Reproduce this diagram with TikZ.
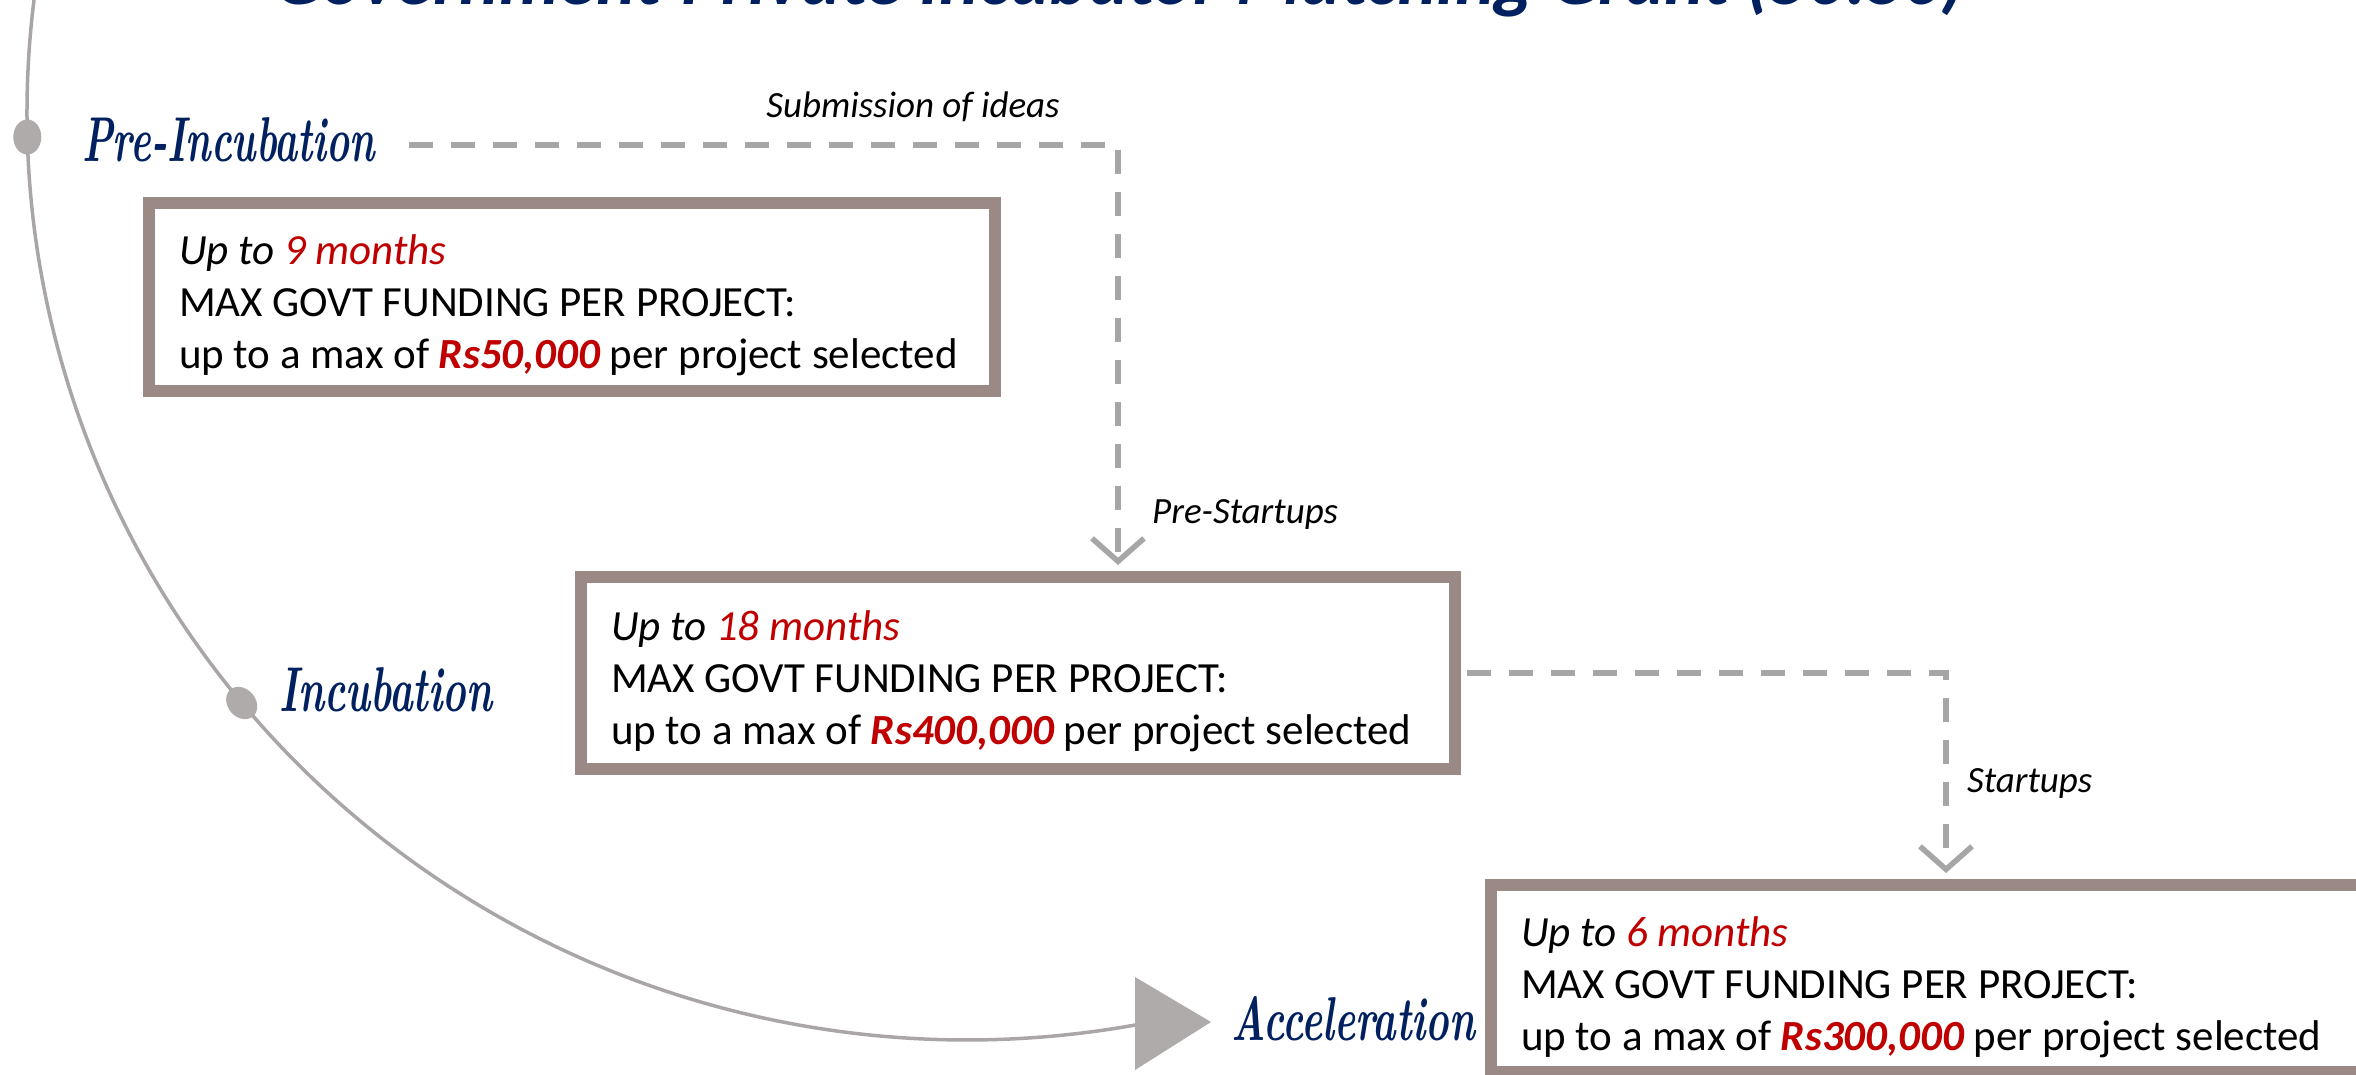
\documentclass[tikz,border=0pt]{standalone}
\usepackage{fontspec}
\usepackage{graphicx}
\newfontfamily\calibri{Carlito}
\usetikzlibrary{arrows.meta,shapes.geometric,calc}
\definecolor{navy}{HTML}{002060}
\definecolor{boxborder}{RGB}{154,137,133}
\definecolor{arcgray}{RGB}{170,166,166}
\definecolor{dotgray}{RGB}{175,171,170}
\definecolor{dashgray}{HTML}{A6A6A6}
\definecolor{darkred}{HTML}{C00000}
\newcommand{\hlred}[1]{\textcolor{darkred}{#1}}
\newcommand{\boxfont}{\calibri\fontsize{43}{52}\selectfont}
\newcommand{\natsp}{\spaceskip 9.7pt\relax\xspaceskip 9.7pt\relax\hyphenpenalty 10000\relax\rule{0pt}{47pt}}
\newcommand{\labfont}{\calibri\itshape\fontsize{37}{44}\selectfont}
\begin{document}
\begin{tikzpicture}[x=1pt,y=-1pt,
  infobox/.style={draw=boxborder, line width=12pt, rectangle, inner xsep=30pt, inner ysep=0pt,
    align=flush left, fill=white, font=\boxfont},
  conn/.style={draw=dashgray, line width=5.5pt, dash pattern=on 24pt off 18pt,
    -{Straight Barb[length=23pt,width=52pt]}},
  stagelabel/.style={inner sep=0pt, text=navy, anchor=base west},
  connlabel/.style={inner sep=0pt, font=\labfont},
  stagedot/.style={ellipse, fill=dotgray, inner sep=0pt, minimum width=35pt, minimum height=28pt}
]
\useasboundingbox (0,0) rectangle (2356,1074);
\clip (0,0) rectangle (2356,1074);

% title (mostly cut off at the top)
\node[inner sep=0pt, anchor=base, text=navy] (title) at (1120,4)
  {\resizebox{1690pt}{!}{\calibri\bfseries\itshape Government-Private Incubator Matching Grant (50:50)}};

% timeline arc
\draw[arcgray, line width=3.5pt] (967,113) ++(188:940 and 927)
  arc[start angle=188, end angle=79.7, x radius=940, y radius=927];
\fill[dotgray] (1135,977) -- (1211,1022) -- (1135,1070) -- cycle;

\node[stagedot, rotate=90] (d1) at (27.3,137) {};
\node[stagedot, rotate=-50] (d2) at (241.7,703) {};

% stage labels
\node[stagelabel] (pre) at (82,161) {\resizebox{293pt}{44pt}{\bfseries\itshape Pre-Incubation}};
\node[stagelabel] (inc) at (279,711) {\resizebox{213pt}{44pt}{\bfseries\itshape Incubation}};
\node[stagelabel] (acc) at (1231,1040) {\resizebox{244pt}{44pt}{\bfseries\itshape Acceleration}};

% boxes
\node[infobox, text width=786pt, minimum height=188pt] (b1) at (572,297)
  {\natsp{\itshape Up to \hlred{9 months}}\\
   MAX GOVT FUNDING PER PROJECT:\\
   up to a max of \hlred{\bfseries\itshape Rs50,000} per project selected};
\node[infobox, text width=814pt, minimum height=192pt] (b2) at (1018,673)
  {\natsp{\itshape Up to \hlred{18 months}}\\
   MAX GOVT FUNDING PER PROJECT:\\
   up to a max of \hlred{\bfseries\itshape Rs400,000} per project selected};
\node[infobox, text width=823pt, minimum height=187pt] (b3) at (1932.5,978.5)
  {\natsp{\itshape Up to \hlred{6 months}}\\
   MAX GOVT FUNDING PER PROJECT:\\
   up to a max of \hlred{\bfseries\itshape Rs300,000} per project selected};

% connectors
\draw[conn] ([xshift=34pt,yshift=-5.5pt]pre.east) -| ([xshift=100pt,yshift=6pt]b2.north);
\draw[conn] ([xshift=6pt]b2.east) -| ([xshift=13.5pt,yshift=6pt]b3.north);

\node[connlabel] (l1) at (913,107) {Submission of ideas};
\node[connlabel, anchor=base west] (l2) at (1152,523) {Pre-Startups};
\node[connlabel, anchor=base west] (l3) at (1967,792) {Startups};
\end{tikzpicture}
\end{document}
